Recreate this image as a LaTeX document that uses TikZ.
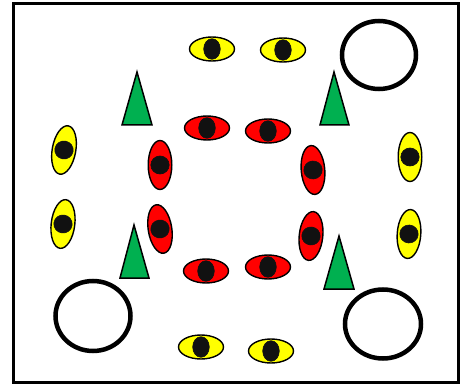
\documentclass[tikz,border=0pt]{standalone}
\definecolor{eyeyellow}{HTML}{FFFF00}
\definecolor{eyered}{HTML}{FF0000}
\definecolor{treegreen}{HTML}{00B050}
\definecolor{pupil}{HTML}{111111}
\begin{document}
\begin{tikzpicture}[x=1pt,y=-1pt,
  frame/.style={draw=black,line width=3pt},
  ring/.style={draw=black,line width=4.5pt},
  tree/.style={draw=black,fill=treegreen,line width=1.5pt,line join=miter},
  eyeball/.style={draw=black,line width=1.4pt},
  pup/.style={fill=pupil,draw=pupil,line width=0.6pt}]
\useasboundingbox (0,0) rectangle (461,385);
\fill[white] (0,0) rectangle (461,385);
\draw[frame] (13.5,3.5) rectangle (458.5,382.5);
% rings
\draw[ring] (379,55) ellipse (37 and 34);
\draw[ring] (93,316) ellipse (37.5 and 35);
\draw[ring] (383,324) ellipse (38 and 34.5);
% trees
\draw[tree] (137,72) -- (152,125) -- (122,125) -- cycle;
\draw[tree] (334,72) -- (349,125) -- (320,125) -- cycle;
\draw[tree] (134,225) -- (149,278) -- (120,278) -- cycle;
\draw[tree] (339,236) -- (354,289) -- (324,289) -- cycle;
% horizontal eyes: #1 color, #2 x, #3 y, #4 angle
\newcommand{\heye}[4]{%
  \begin{scope}[shift={(#2,#3)},rotate=#4]
  \draw[eyeball,fill=#1] (0,0) ellipse (22.5 and 12);
  \fill[pup] (0,0) ellipse (8.3 and 10.3);
  \end{scope}}
\newcommand{\veye}[4]{%
  \begin{scope}[shift={(#2,#3)},rotate=#4]
  \draw[eyeball,fill=#1] (0,0) ellipse (11.8 and 24.5);
  \fill[pup] (0,0) ellipse (9.2 and 9);
  \end{scope}}
% yellow
\heye{eyeyellow}{212}{49}{0}
\heye{eyeyellow}{283}{50}{0}
\heye{eyeyellow}{201}{347}{0}
\heye{eyeyellow}{271}{351}{0}
\veye{eyeyellow}{64}{150}{-10}
\veye{eyeyellow}{63}{224}{-7}
\veye{eyeyellow}{410}{157}{0}
\veye{eyeyellow}{409}{234}{-4}
% red
\heye{eyered}{207}{128}{0}
\heye{eyered}{268}{131}{0}
\heye{eyered}{206}{271}{0}
\heye{eyered}{268}{267}{0}
\veye{eyered}{160}{165}{0}
\veye{eyered}{160}{229}{9}
\veye{eyered}{313}{170}{5}
\veye{eyered}{311}{236}{-6}
\end{tikzpicture}
\end{document}
